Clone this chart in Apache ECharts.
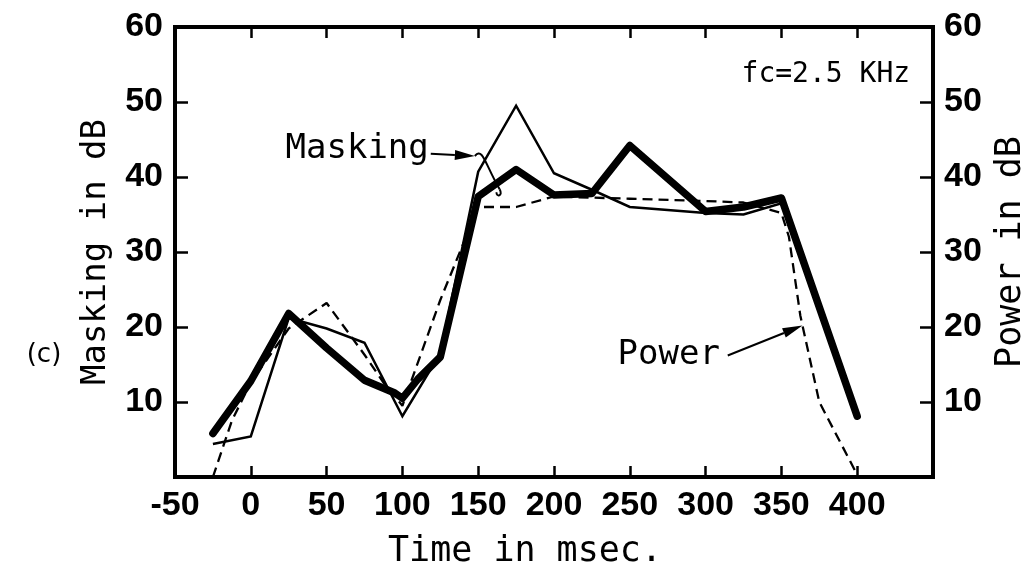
<!DOCTYPE html>
<html><head><meta charset="utf-8">
<script src="https://cdn.jsdelivr.net/npm/echarts@6/dist/echarts.min.js"></script>
<style>html,body{margin:0;padding:0;background:#fff}#c{width:1036px;height:574px}</style>
</head><body><div id="c"></div>
<script>
// ---- data ----
const xTickLabels = [-50, 0, 50, 100, 150, 200, 250, 300, 350, 400];
const yTickLabels = [10, 20, 30, 40, 50, 60];

const thickTimes  = [-25, 0, 25, 50, 75, 95, 100, 110, 125, 150, 175, 200, 225, 250, 300, 325, 350, 400];
const thickValues = [5.8, 12.8, 21.8, 17.2, 12.9, 11.2, 10.5, 13.0, 16.0, 37.4, 41.0, 37.6, 37.8, 44.2, 35.4, 36.0, 37.2, 8.1];

const thinTimes  = [-25, 0, 25, 50, 75, 100, 125, 150, 175, 200, 225, 250, 300, 325, 350, 400];
const thinValues = [4.4, 5.4, 21.2, 19.8, 17.9, 8.1, 16.5, 40.7, 49.5, 40.5, 38.3, 36.0, 35.2, 35.0, 36.5, 8.1];

const powerTimes  = [-25, -12.5, 0, 25, 50, 75, 87.5, 100, 125, 150, 175, 200, 250, 300, 325, 350, 355, 362.5, 375, 400];
const powerValues = [0, 7.5, 12.6, 19.8, 23.2, 16.3, 12.6, 9.5, 23.6, 36.0, 36.0, 37.4, 37.1, 36.8, 36.6, 35.2, 32.0, 21.5, 10.0, 0.3];

const zip = (a, b) => a.map((t, i) => [t, b[i]]);

const tickFont = { fontFamily: "'Liberation Sans', Arial, sans-serif", fontWeight: 'bold', fontSize: 34, color: '#000' };
const nameFont = "'DejaVu Sans Mono', monospace";

const chart = echarts.init(document.getElementById('c'));
const axLine = () => ({ show: true, onZero: false, lineStyle: { color: '#000', width: 4, cap: 'square' } });
const tick = len => ({ show: true, inside: true, length: len, lineStyle: { color: '#000', width: 2.5, opacity: 1 } });

chart.setOption({
  animation: false,
  backgroundColor: '#fff',
  grid: { left: 175, right: 100, top: 27, bottom: 93 },
  xAxis: [{
    type: 'value', min: -50, max: 450, interval: 50, position: 'bottom',
    axisLine: axLine(), axisTick: tick(11),
    axisLabel: Object.assign({ margin: 12, formatter: v => xTickLabels.includes(v) ? String(v) : '' }, tickFont),
    splitLine: { show: false },
    name: 'Time in msec.', nameLocation: 'middle', nameGap: 57,
    nameTextStyle: { fontFamily: nameFont, fontSize: 35, color: '#000', padding: [0, 58, 0, 0] }
  }, {
    type: 'value', min: -50, max: 450, interval: 50, position: 'top',
    axisLine: axLine(), axisTick: tick(11),
    axisLabel: { show: false }, splitLine: { show: false }
  }],
  yAxis: [{
    type: 'value', min: 0, max: 60, interval: 10, position: 'left',
    axisLine: axLine(), axisTick: tick(13),
    axisLabel: Object.assign({ margin: 12, formatter: v => yTickLabels.includes(v) ? String(v) : '' }, tickFont),
    splitLine: { show: false },
    name: 'Masking in dB', nameLocation: 'middle', nameGap: 62, nameRotate: 90,
    nameTextStyle: { fontFamily: nameFont, fontSize: 34, color: '#000' }
  }, {
    type: 'value', min: 0, max: 60, interval: 10, position: 'right',
    axisLine: axLine(), axisTick: tick(13),
    axisLabel: Object.assign({ margin: 11, formatter: v => yTickLabels.includes(v) ? String(v) : '' }, tickFont),
    splitLine: { show: false },
    name: 'Power in dB', nameLocation: 'middle', nameGap: 60, nameRotate: 90,
    nameTextStyle: { fontFamily: nameFont, fontSize: 35, color: '#000' }
  }],
  series: [
    { name: 'Masking (thick)', type: 'line', xAxisIndex: 0, yAxisIndex: 0, data: zip(thickTimes, thickValues),
      symbol: 'none', z: 4, lineStyle: { color: '#000', width: 7.5, cap: 'round', join: 'round' } },
    { name: 'Masking (thin)', type: 'line', xAxisIndex: 0, yAxisIndex: 0, data: zip(thinTimes, thinValues),
      symbol: 'none', z: 3, lineStyle: { color: '#000', width: 2.5, join: 'miter' } },
    { name: 'Power', type: 'line', xAxisIndex: 0, yAxisIndex: 0, data: zip(powerTimes, powerValues),
      symbol: 'none', z: 2, lineStyle: { color: '#000', width: 2.3, type: [10, 6] } }
  ]
});

// ---- annotations, placed in data coordinates ----
const P = (t, v) => chart.convertToPixel({ xAxisIndex: 0, yAxisIndex: 0 }, [t, v]);
function txt(p, text, size, align, family) {
  return { type: 'text', x: p[0], y: p[1], z: 10,
    style: { text, fontSize: size, fontFamily: family || nameFont, fill: '#000',
      align, verticalAlign: 'middle', textAlign: align, textVerticalAlign: 'middle' } };
}
function arrow(a, b, head, half) {
  const dx = b[0] - a[0], dy = b[1] - a[1], L = Math.hypot(dx, dy), ux = dx / L, uy = dy / L;
  const bx = b[0] - ux * head, by = b[1] - uy * head;
  return [
    { type: 'line', z: 10, shape: { x1: a[0], y1: a[1], x2: bx, y2: by }, style: { stroke: '#000', lineWidth: 2 } },
    { type: 'polygon', z: 10, shape: { points: [[b[0], b[1]], [bx - uy * half, by + ux * half], [bx + uy * half, by - ux * half]] },
      style: { fill: '#000' } }
  ];
}
const mTip = P(147.8, 42.8), mEnd = P(164.8, 37.7);
const g = [
  txt(P(22.9, 43.7), 'Masking', 34, 'left'),
  ...arrow(P(118.7, 43.1), mTip, 20, 5),
  { type: 'bezierCurve', z: 10, shape: { x1: mTip[0], y1: mTip[1], cpx1: mTip[0] + 8, cpy1: mTip[1] - 9,
      cpx2: mTip[0] + 10, cpy2: mTip[1] + 8, x2: mEnd[0] - 1, y2: mEnd[1] - 5 },
    style: { stroke: '#000', lineWidth: 2, fill: null } },
  { type: 'bezierCurve', z: 10, shape: { x1: mEnd[0] - 1, y1: mEnd[1] - 5, cpx1: mEnd[0] + 3, cpy1: mEnd[1] + 2,
      cpx2: mEnd[0] - 5, cpy2: mEnd[1] + 3, x2: mEnd[0] - 4, y2: mEnd[1] - 2 },
    style: { stroke: '#000', lineWidth: 2, fill: null } },
  txt(P(309.4, 16.25), 'Power', 34, 'right'),
  ...arrow(P(314.6, 16.2), P(363.9, 20.2), 20, 5),
  txt(P(434.9, 53.65), 'fc=2.5 KHz', 28, 'right'),
  txt([44, 355], '(c)', 26, 'center', "'DejaVu Sans', sans-serif")
];
chart.setOption({ graphic: g });
</script></body></html>
